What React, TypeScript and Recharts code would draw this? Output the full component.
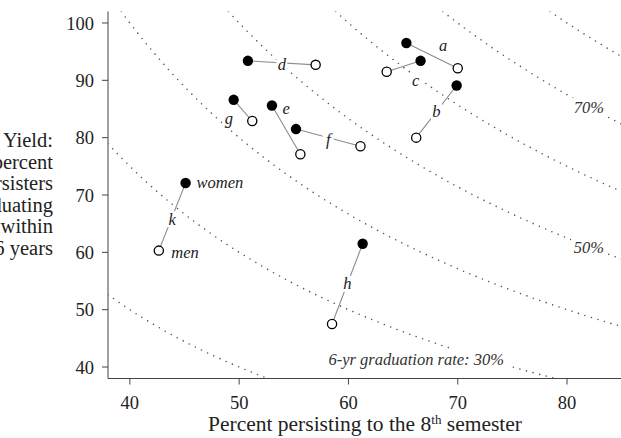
import React from "react";
import { ScatterChart, Scatter, XAxis, YAxis } from "recharts";

// iso-lines of 6-yr graduation rate (persist% x yield% / 100)
const rateLevels = [20, 30, 40, 50, 60, 70, 80];

// one pair per school: women (filled) and men (open)
const pairLetters = ["a", "b", "c", "d", "e", "f", "g", "h", "k"];
const womenPersist = [65.3, 69.9, 66.6, 50.8, 53.0, 55.2, 49.5, 61.3, 45.1];
const womenYield = [96.5, 89.1, 93.4, 93.4, 85.6, 81.5, 86.6, 61.5, 72.1];
const menPersist = [70.0, 66.2, 63.5, 57.0, 55.6, 61.1, 51.2, 58.5, 42.65];
const menYield = [92.1, 80.0, 91.5, 92.7, 77.1, 78.5, 82.9, 47.5, 60.3];

const curveLabelText = ["70%", "50%", "6-yr graduation rate: 30%"];
const curveLabelX = [82.0, 82.0, 66.2];
const curveLabelY = [85.2, 60.9, 41.4];

const xTicks = [40, 50, 60, 70, 80];
const yTicks = [40, 50, 60, 70, 80, 90, 100];
const yTitleLines = ["Yield:", "percent", "persisters", "graduating", "within", "6 years"];

const X_DOMAIN: [number, number] = [38, 86];
const Y_DOMAIN: [number, number] = [38, 102];
const FONT = "'Liberation Serif', 'Times New Roman', serif";

// pixel nudges for the letter labels, from the pair midpoint
const letterOffset: Record<string, [number, number]> = {
  a: [11, -10],
  b: [0, 0],
  c: [12, 14],
  d: [0, 2],
  e: [0, -21],
  f: [0, 1.5],
  g: [-14, 8],
  h: [0, 0],
  k: [0, 2.5],
};

function isoCurve(rate: number) {
  const k = rate * 100;
  const x0 = Math.max(X_DOMAIN[0], k / Y_DOMAIN[1]);
  const x1 = Math.min(X_DOMAIN[1], k / Y_DOMAIN[0]);
  const pts = [];
  const n = 90;
  for (let i = 0; i <= n; i++) {
    const x = x0 + ((x1 - x0) * i) / n;
    pts.push({ x, y: k / x });
  }
  return pts;
}

const pairs = pairLetters.map((l, i) => [
  { x: womenPersist[i], y: womenYield[i], kind: "w" },
  { x: menPersist[i], y: menYield[i], kind: "m" },
]);

const letterPoints = pairLetters.map((l, i) => ({
  x: (womenPersist[i] + menPersist[i]) / 2,
  y: (womenYield[i] + menYield[i]) / 2,
  text: l,
}));

const ki = pairLetters.indexOf("k");
const legendPoints = [
  { x: womenPersist[ki], y: womenYield[ki], text: "women" },
  { x: menPersist[ki], y: menYield[ki], text: "men" },
];

const curveLabels = curveLabelText.map((t, i) => ({ x: curveLabelX[i], y: curveLabelY[i], text: t }));

const NoDot = () => <g />;

const PairDot = (props: any) => {
  const { cx, cy, payload } = props;
  if (payload.kind === "w") return <circle cx={cx} cy={cy} r={5.2} fill="#000" />;
  return <circle cx={cx} cy={cy} r={4.6} fill="#fff" stroke="#000" strokeWidth={1.3} />;
};

const LetterLabel = (props: any) => {
  const { cx, cy, payload } = props;
  const [dx, dy] = letterOffset[payload.text] || [0, 0];
  return (
    <g>
      <rect x={cx + dx - 5.5} y={cy + dy - 8} width={11} height={16} fill="#fff" />
      <text x={cx + dx} y={cy + dy} textAnchor="middle" dominantBaseline="central"
        fontFamily={FONT} fontStyle="italic" fontSize={16.5} fill="#222">
        {payload.text}
      </text>
    </g>
  );
};

const LegendLabel = (props: any) => {
  const { cx, cy, payload } = props;
  const isW = payload.text === "women";
  return (
    <text x={cx + (isW ? 11 : 12.5)} y={cy + (isW ? 5 : 7.5)} fontFamily={FONT}
      fontStyle="italic" fontSize={16.5} fill="#222">
      {payload.text}
    </text>
  );
};

const CurveLabel = (props: any) => {
  const { cx, cy, payload } = props;
  const w = payload.text.length * 7.1 + 14;
  return (
    <g>
      <rect x={cx - w / 2} y={cy - 10} width={w} height={20} fill="#fff" />
      <text x={cx} y={cy} textAnchor="middle" dominantBaseline="central"
        fontFamily={FONT} fontStyle="italic" fontSize={16.5} fill="#333">
        {payload.text}
      </text>
    </g>
  );
};

const XTitle = () => (
  <text x={365} y={431} textAnchor="middle" fontFamily={FONT} fontSize={21.5} fill="#222">
    <tspan>Percent persisting to the 8</tspan>
    <tspan dy={-7} fontSize={13}>th</tspan>
    <tspan dy={7}> semester</tspan>
  </text>
);

const YTitle = () => (
  <text x={53} y={147} textAnchor="end" fontFamily={FONT} fontSize={20.5} fill="#222">
    {yTitleLines.map((line, i) => (
      <tspan key={line} x={53} dy={i === 0 ? 0 : 21.5}>
        {line}
      </tspan>
    ))}
  </text>
);

export default function App() {
  return (
    <div style={{ position: "absolute", left: 0, top: 0, width: 621, height: 438, overflow: "hidden", background: "#fff" }}>
      <ScatterChart width={650} height={438} margin={{ top: 11.5, right: 17.4, bottom: 14.5, left: 48 }}>
        <XAxis
          type="number"
          dataKey="x"
          domain={X_DOMAIN}
          ticks={xTicks}
          allowDataOverflow
          height={45}
          tickSize={6}
          tickMargin={11}
          stroke="#444"
          tick={{ fill: "#222", fontSize: 18.5, fontFamily: FONT }}
          label={XTitle}
        />
        <YAxis
          type="number"
          dataKey="y"
          domain={Y_DOMAIN}
          ticks={yTicks}
          allowDataOverflow
          width={60}
          tickSize={6}
          tickMargin={8}
          stroke="#444"
          tick={{ fill: "#222", fontSize: 18.5, fontFamily: FONT }}
          label={YTitle}
        />
        {rateLevels.map((r) => (
          <Scatter
            key={"iso" + r}
            data={isoCurve(r)}
            line={{ stroke: "#555", strokeWidth: 1.6, strokeDasharray: "0 6.8", strokeLinecap: "round" }}
            lineType="joint"
            shape={NoDot}
            isAnimationActive={false}
          />
        ))}
        {pairs.map((p, i) => (
          <Scatter
            key={"pair" + pairLetters[i]}
            data={p}
            line={{ stroke: "#8c8c8c", strokeWidth: 1.1 }}
            lineType="joint"
            shape={PairDot}
            isAnimationActive={false}
          />
        ))}
        <Scatter data={letterPoints} shape={LetterLabel} isAnimationActive={false} />
        <Scatter data={legendPoints} shape={LegendLabel} isAnimationActive={false} />
        <Scatter data={curveLabels} shape={CurveLabel} isAnimationActive={false} />
      </ScatterChart>
    </div>
  );
}
